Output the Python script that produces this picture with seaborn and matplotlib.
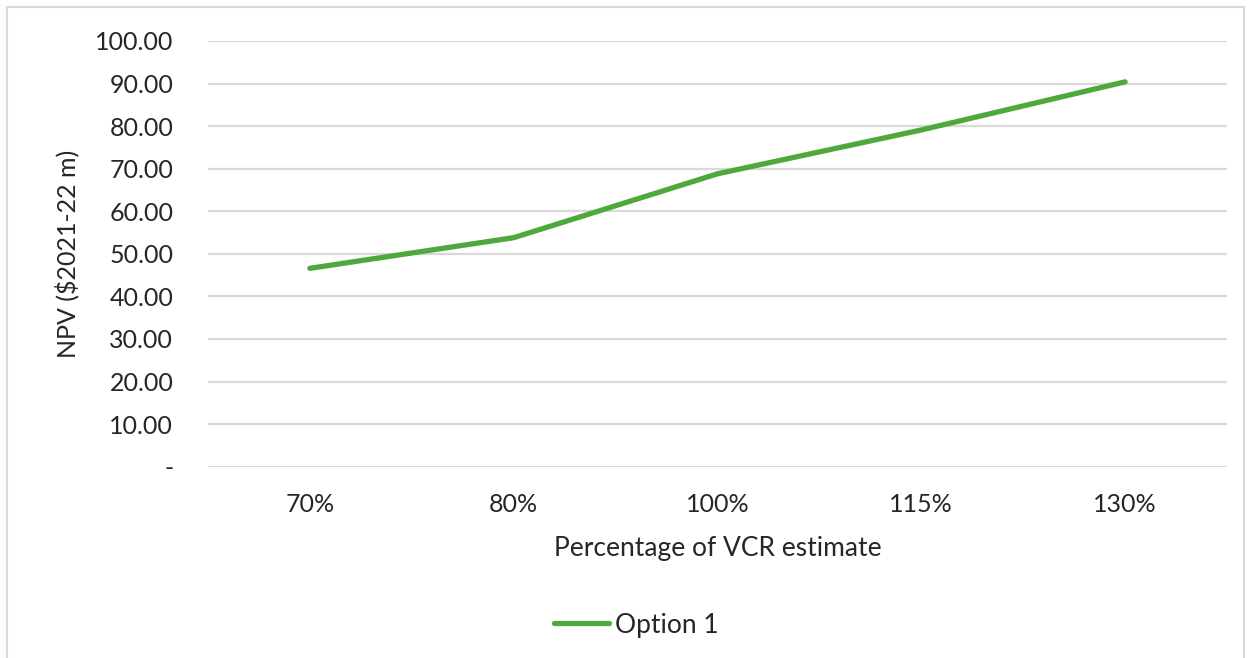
import matplotlib
matplotlib.use("Agg")
import matplotlib.pyplot as plt
import matplotlib.ticker as mticker
from matplotlib.patches import Rectangle
from matplotlib.lines import Line2D
import seaborn as sns
import pandas as pd

# NPV sensitivity to the VCR estimate
vcr_pct = ["70%", "80%", "100%", "115%", "130%"]
npv_option1 = [46.6, 53.8, 68.8, 79.1, 90.4]
series_name = "Option 1"

df = pd.DataFrame({"VCR": vcr_pct, "NPV": npv_option1, "Series": series_name})

sns.set_theme(style="white")
plt.rcParams["font.family"] = ["Lato", "DejaVu Sans"]

LINE_GREEN = "#4ea83c"
TEXT = "#262626"

W, H = 1250, 658
fig = plt.figure(figsize=(W / 100, H / 100), dpi=100)
ax = fig.add_axes([208 / W, 1 - 466.7 / H, (1227 - 208) / W, (466.7 - 41) / H])

sns.lineplot(data=df, x="VCR", y="NPV", hue="Series", palette=[LINE_GREEN],
             linewidth=3.8, sort=False, ax=ax, legend=False)
for ln in ax.lines:
    ln.set_solid_capstyle("round")
    ln.set_solid_joinstyle("round")
    ln.set_zorder(3)

ax.set_xlim(-0.5, len(vcr_pct) - 0.5)
ax.set_ylim(0, 100)
ax.yaxis.set_major_locator(mticker.MultipleLocator(10))
ax.yaxis.set_major_formatter(
    mticker.FuncFormatter(lambda v, _: "-" if abs(v) < 1e-9 else f"{v:.2f}"))
ax.grid(axis="y", color="#d9d9d9", linewidth=1.6, zorder=0)
ax.grid(axis="x", visible=False)
for s in ax.spines.values():
    s.set_visible(False)

ax.tick_params(axis="y", length=0, pad=25, labelsize=18, labelcolor=TEXT)
ax.tick_params(axis="x", length=0, pad=19, labelsize=18, labelcolor=TEXT)

ax.set_xlabel("Percentage of VCR estimate", fontsize=19, color=TEXT, labelpad=14)
ax.set_ylabel("NPV ($2021-22 m)", fontsize=18, color=TEXT, labelpad=11)

# legend below the plot area
handle = Line2D([0], [0], color=LINE_GREEN, linewidth=3.8, solid_capstyle="round")
fig.legend([handle], [series_name], loc="center", bbox_to_anchor=(636 / W, 1 - 625 / H),
           frameon=False, fontsize=19, handlelength=2.1, handletextpad=0.2,
           labelcolor=TEXT)

# chart-area border
fig.patches.append(Rectangle((7 / W, -0.05), (1244 - 7) / W, 1.05 - 7 / H,
                             transform=fig.transFigure, fill=False,
                             edgecolor="#d9d9d9", linewidth=1.5))

fig.savefig("out.png", dpi=100)
